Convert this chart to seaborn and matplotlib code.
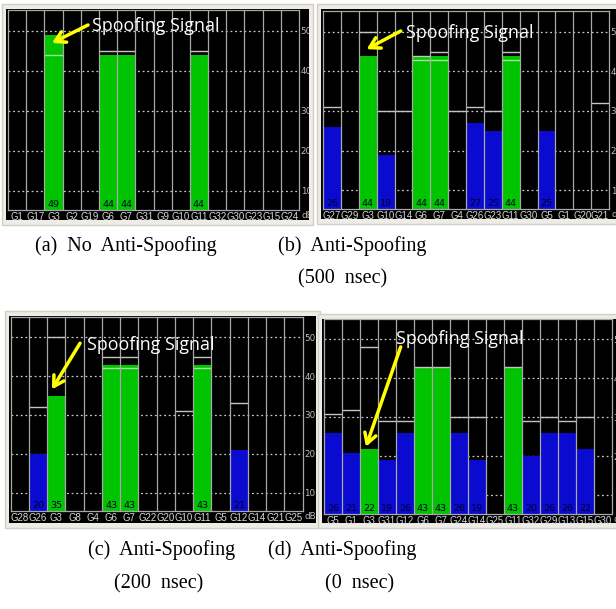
import numpy as np
import pandas as pd
import seaborn as sns
import matplotlib.pyplot as plt
from matplotlib.patches import Rectangle
from matplotlib.transforms import Bbox, TransformedBbox

nan = np.nan

# (a) no anti-spoofing
a_sats = ['G1', 'G17', 'G3', 'G2', 'G19', 'G6', 'G7', 'G31', 'G9', 'G10', 'G11', 'G32', 'G30', 'G23', 'G15', 'G24']
a_snr = [nan, nan, 49, nan, nan, 44, 44, nan, nan, nan, 44, nan, nan, nan, nan, nan]
a_ref = [nan, nan, nan, nan, nan, 45, 45, nan, nan, nan, 45, nan, nan, nan, nan, nan]
a_inner = [nan, nan, 44, nan, nan, nan, nan, nan, nan, nan, nan, nan, nan, nan, nan, nan]

# (b) anti-spoofing 500 nsec
b_sats = ['G27', 'G29', 'G3', 'G10', 'G14', 'G6', 'G7', 'G4', 'G26', 'G23', 'G11', 'G30', 'G5', 'G1', 'G20', 'G21']
b_snr = [26, nan, 44, 19, nan, 44, 44, nan, 27, 25, 44, nan, 25, nan, nan, nan]
b_ref = [31, nan, 50, 30, 30, 44, 45, 30, 31, 30, 45, nan, nan, nan, nan, 32]
b_inner = [nan, nan, nan, nan, nan, 43, 43, nan, nan, nan, 43, nan, nan, nan, nan, nan]

# (c) anti-spoofing 200 nsec
c_sats = ['G28', 'G26', 'G3', 'G8', 'G4', 'G6', 'G7', 'G22', 'G20', 'G10', 'G11', 'G5', 'G12', 'G14', 'G21', 'G25']
c_snr = [nan, 20, 35, nan, nan, 43, 43, nan, nan, nan, 43, nan, 21, nan, nan, nan]
c_ref = [nan, 32, 50, nan, nan, 45, 45, nan, nan, 31, 45, nan, 33, nan, nan, nan]
c_inner = [nan, nan, nan, nan, nan, 42, 42, nan, nan, nan, 42, nan, nan, nan, nan, nan]

# (d) anti-spoofing 0 nsec
d_sats = ['G5', 'G1', 'G3', 'G31', 'G12', 'G6', 'G7', 'G24', 'G14', 'G25', 'G11', 'G32', 'G29', 'G13', 'G15', 'G30']
d_snr = [26, 21, 22, 19, 26, 43, 43, 26, 19, nan, 43, 20, 26, 26, 22, nan]
d_ref = [31, 32, 48, 29, 29, 43, 43, 30, 30, nan, 43, 29, 30, 29, 30, nan]
d_inner = [nan] * 16

used_sats = ['G3', 'G6', 'G7', 'G11']

captions = [
    '(a)  No  Anti-Spoofing',
    '(b)  Anti-Spoofing',
    '(500  nsec)',
    '(c)  Anti-Spoofing',
    '(200  nsec)',
    '(d)  Anti-Spoofing',
    '(0  nsec)',
]

GREEN = '#00c400'
BLUE = '#0a0ad0'
W, H = 616, 609

sns.set_theme(style='ticks')
plt.rcParams['font.family'] = ['DejaVu Sans']

fig = plt.figure(figsize=(W / 100, H / 100), dpi=100)
fig.patch.set_facecolor('white')


def fx(x):
    return x / W


def fy(y):
    return 1 - y / H


def draw_panel(sats, snr, ref, inner, cols, black, note):
    # cols: x0, x1, top, bottom of the bar area in pixels
    # black: x0, x1, top, bottom of the black window in pixels
    bx0, bx1, bt, bb = black
    fig.add_artist(Rectangle((fx(bx0 - 4), fy(bb + 5)), fx(bx1 - bx0 + 8), (bb - bt + 10) / H,
                             transform=fig.transFigure, facecolor='#edece6',
                             edgecolor='#d2cec2', lw=1, zorder=-3))
    fig.add_artist(Rectangle((fx(bx0), fy(bb)), fx(bx1 - bx0), (bb - bt) / H,
                             transform=fig.transFigure, facecolor='black',
                             edgecolor='none', zorder=-2))

    x0, x1, top, bottom = cols
    ax = fig.add_axes([fx(x0), fy(bottom), fx(x1 - x0), (bottom - top) / H])
    ax.set_facecolor('black')

    df = pd.DataFrame({
        'sat': sats,
        'snr': snr,
        'kind': ['used' if s in used_sats else 'tracked' for s in sats],
    })
    sns.barplot(data=df, x='sat', y='snr', hue='kind', order=sats,
                palette={'used': GREEN, 'tracked': BLUE}, dodge=False,
                width=1.0, saturation=1, errorbar=None, legend=False,
                edgecolor='none', ax=ax, zorder=2)

    ax.set_xlim(-0.5, len(sats) - 0.5)
    ax.set_ylim(5.25, 55.25)
    ax.set_xlabel('')
    ax.set_ylabel('')

    ax.set_yticks([10, 20, 30, 40, 50])
    ax.yaxis.tick_right()
    ax.grid(axis='y', color='#c8c8c8', linestyle=(0, (1.5, 2.2)), lw=0.9)
    ax.grid(axis='x', visible=False)
    ax.set_axisbelow(True)
    ax.tick_params(axis='x', length=0, pad=1.3, labelsize=6.9, labelcolor='#d8d8d8')
    ax.tick_params(axis='y', length=0, pad=1.2, labelsize=6.3, labelcolor='#bdbdbd')
    for lbl in ax.get_xticklabels():
        lbl.set_family(['Liberation Sans', 'DejaVu Sans'])
    clip = TransformedBbox(Bbox.from_extents(fx(bx0), fy(bb), fx(bx1), fy(bt)), fig.transFigure)
    for lbl in ax.get_yticklabels():
        lbl.set_clip_on(True)
        lbl.set_clip_box(clip)
    for sp in ax.spines.values():
        sp.set_color('#a8a8a8')
        sp.set_linewidth(0.9)

    # column separators
    ax.vlines(np.arange(0.5, len(sats) - 0.5), 5.25, 55.25, color='#a8a8a8', lw=0.9, zorder=4)

    for i, s in enumerate(sats):
        if not np.isnan(ref[i]):
            ax.hlines(ref[i], i - 0.5, i + 0.5, color='#c4c4c4', lw=1.0, zorder=3)
        if not np.isnan(inner[i]):
            ax.hlines(inner[i], i - 0.5, i + 0.5, color='#9ee69e', lw=1.0, zorder=3)
        if not np.isnan(snr[i]):
            ax.annotate(str(int(snr[i])), xy=(i, 0), xycoords=('data', 'axes fraction'),
                        xytext=(0, 0.6), textcoords='offset points', ha='center',
                        va='bottom', fontsize=6.8, color='#000028', zorder=5)

    db = ax.annotate('dB', xy=(1, 0), xycoords='axes fraction', xytext=(2, -5.5),
                     textcoords='offset pixels', ha='left', va='center',
                     fontsize=6.3, color='#bdbdbd')
    db.set_clip_on(True)
    db.set_clip_box(clip)

    tx, ty, tail, tip = note
    ax.annotate('', xy=tip, xytext=tail,
                arrowprops=dict(arrowstyle='->,head_length=0.6,head_width=0.35',
                                color='#ffff00', lw=2.5, shrinkA=0, shrinkB=0),
                zorder=6)
    ax.text(tx, ty, 'Spoofing Signal', color='white', fontsize=12.8,
            family=['Open Sans', 'DejaVu Sans'], ha='left', va='center', zorder=6)
    return ax


draw_panel(a_sats, a_snr, a_ref, a_inner, (8, 299, 10, 210), (6, 309, 9, 220),
           (4.12, 51.3, (3.9, 51.5), (1.92, 47.0)))
draw_panel(b_sats, b_snr, b_ref, b_inner, (323, 609, 11, 209), (321, 625, 9, 219),
           (4.15, 49.7, (3.85, 50.2), (1.94, 45.6)))
draw_panel(c_sats, c_snr, c_ref, c_inner, (10.7, 302.7, 317, 511), (9, 316, 316, 523),
           (3.70, 48.1, (3.30, 48.5), (1.76, 36.6)))
draw_panel(d_sats, d_snr, d_ref, d_inner, (324, 612, 319, 514), (322, 625, 319, 523),
           (3.52, 50.1, (3.76, 48.1), (1.83, 22.5)))

cap_pos = [(35, 246), (278, 246), (298, 279), (88, 550), (114, 584), (268, 550), (325, 584)]
for txt, (x, y) in zip(captions, cap_pos):
    fig.text(fx(x), fy(y), txt, ha='left', va='center', fontsize=14.5,
             family=['Liberation Serif', 'DejaVu Serif'], color='black')

fig.savefig('out.png', dpi=100, facecolor='white')
